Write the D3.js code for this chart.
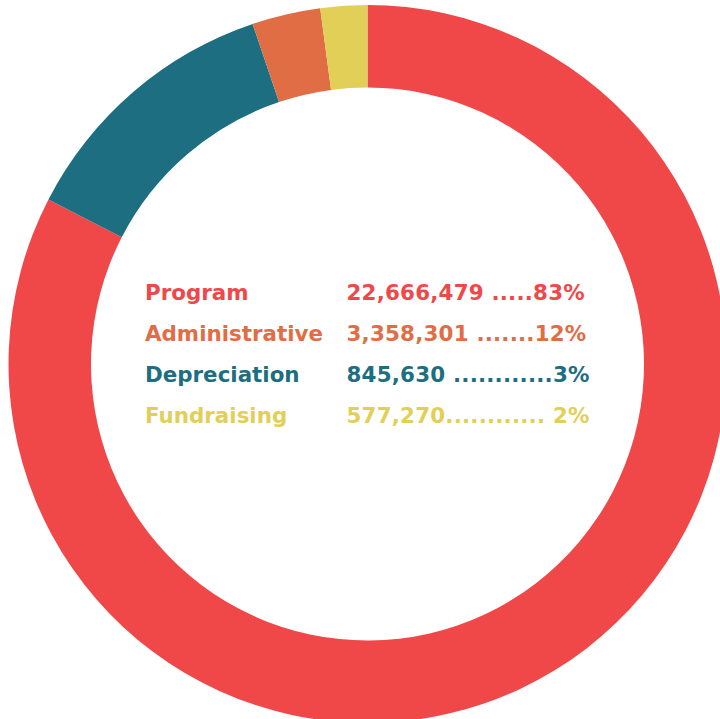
<!DOCTYPE html>
<html>
<head>
<meta charset="utf-8">
<script src="https://cdn.jsdelivr.net/npm/d3@7/dist/d3.min.js"></script>
<style>
  html, body { margin: 0; padding: 0; background: #fff; }
  svg { display: block; }
  .legend text { font-family: "DejaVu Sans", sans-serif; font-weight: bold; font-size: 21.4px; }
  .legend text.amount { letter-spacing: 0.2px; }
</style>
</head>
<body>
<svg id="donut" width="720" height="719"></svg>
<script>
const categories = ["Program", "Administrative", "Depreciation", "Fundraising"];
const amounts = [22666479, 3358301, 845630, 577270];
const leaders = [" .....", " .......", " ............", "............ "];
const pctLabels = ["83%", "12%", "3%", "2%"];
// the ring and the legend do not use the same colour for each category
const sliceColors = ["#f04849", "#1c6e80", "#e16d45", "#e2cf57"];
const legendColors = ["#f04849", "#e16d45", "#1c6e80", "#e2cf57"];

const svg = d3.select("#donut"),
    cx = 367.5, cy = 364,
    outerR = 359, innerR = 276.5;

const chart = svg.append("g").attr("transform", `translate(${cx},${cy})`);

const pie = d3.pie().sort(null).value(d => d);
const arc = d3.arc().innerRadius(innerR).outerRadius(outerR);

chart.selectAll("path.slice")
    .data(pie(amounts))
    .enter()
    .append("path")
    .attr("class", "slice")
    .attr("d", arc)
    .style("fill", (d, i) => sliceColors[i]);

const y = d3.scaleBand().domain(categories).range([-84, 80]).paddingInner(0);
const fmt = d3.format(",");

const legend = chart.append("g").attr("class", "legend");

const rows = legend.selectAll("g.row")
    .data(categories)
    .enter()
    .append("g")
    .attr("class", "row")
    .attr("transform", d => `translate(0,${y(d) + 20})`)
    .style("fill", (d, i) => legendColors[i]);

rows.append("text")
    .attr("x", 145 - cx)
    .text(d => d);

rows.append("text")
    .attr("class", "amount")
    .attr("x", 346.5 - cx)
    .style("white-space", "pre")
    .text((d, i) => fmt(amounts[i]) + leaders[i] + pctLabels[i]);
</script>
</body>
</html>
